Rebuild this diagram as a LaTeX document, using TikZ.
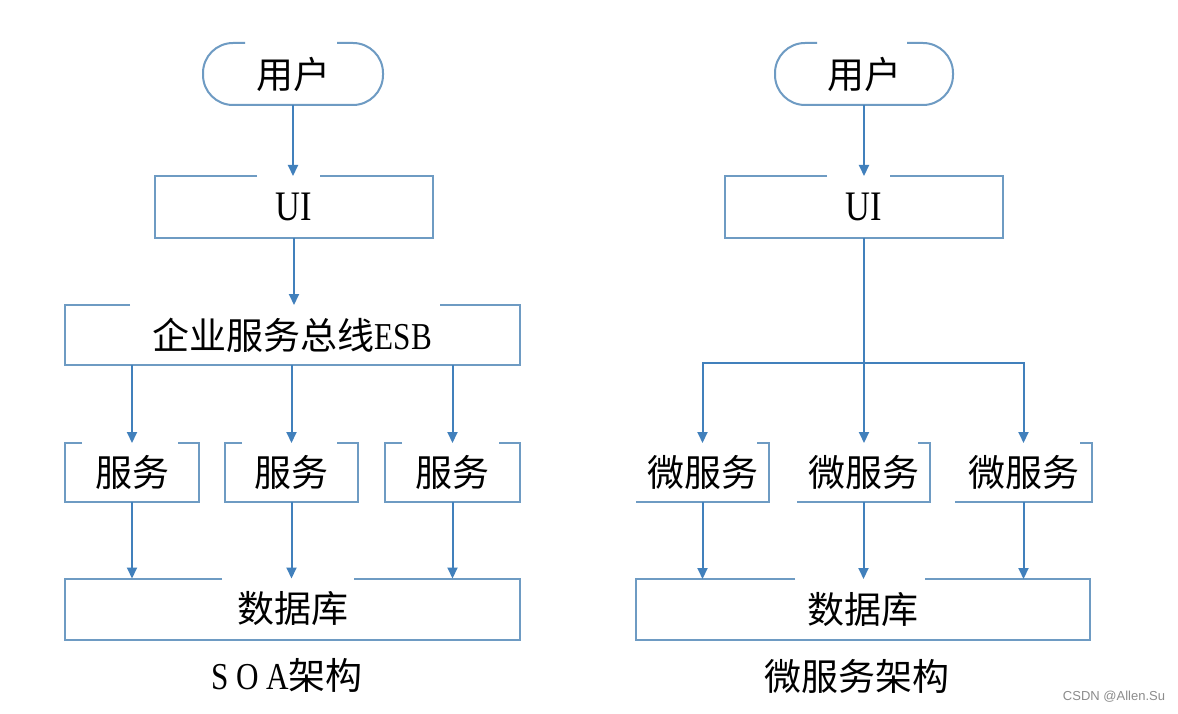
\documentclass[tikz,border=0pt]{standalone}
\usepackage{fontspec}
\setmainfont{Liberation Serif}[FakeStretch=0.82]
\newfontfamily\cjk{Noto Sans CJK SC}
\newfontfamily\wmfont{Liberation Sans}
\usetikzlibrary{arrows.meta,calc}
\definecolor{boxline}{RGB}{110,155,195}
\definecolor{arrowcol}{RGB}{65,128,188}
\newcommand\cn[1]{{\cjk\fontsize{37}{42}\selectfont #1}}
\newcommand\lt[2]{{\fontsize{#1}{#1}\selectfont #2}}
\begin{document}
\begin{tikzpicture}[x=1pt,y=-1pt,
  box/.style={inner sep=0pt, outer sep=0pt, draw=none},
  bl/.style={draw=boxline, line width=2pt},
  arr/.style={draw=arrowcol, line width=2pt, -{Triangle[length=11pt,width=10pt]}},
  ln/.style={draw=arrowcol, line width=2pt}]
\fill[white] (0,0) rectangle (1178,714);
\useasboundingbox (0,0) rectangle (1178,714);

% ---------------- SOA ----------------
\node[box, minimum width=180pt, minimum height=62pt] (u1) at (293,74) {\cn{用户}};
\draw[bl, rounded corners=30pt] ($(u1.north west)+(42,0)$) -- (u1.north west) -- (u1.south west) -- (u1.south east) -- (u1.north east) -- ($(u1.north east)+(-46,0)$);

\node[box, minimum width=278pt, minimum height=62pt] (ui1) at (294,207) {\lt{42}{UI}\hspace{8pt}};
\draw[bl] ($(ui1.north west)+(102,0)$) -- (ui1.north west) -- (ui1.south west) -- (ui1.south east) -- (ui1.north east) -- ($(ui1.north east)+(-113,0)$);

\node[box, minimum width=455pt, minimum height=60pt] (esb) at (292.5,335) {\cn{企业服务总线}\lt{38}{ESB}};
\draw[bl] ($(esb.north west)+(65,0)$) -- (esb.north west) -- (esb.south west) -- (esb.south east) -- (esb.north east) -- ($(esb.north east)+(-80,0)$);

\node[box, minimum width=134pt, minimum height=59pt] (s1) at (132,472.5) {\cn{服务}};
\node[box, minimum width=133pt, minimum height=59pt] (s2) at (291.5,472.5) {\cn{服务}};
\node[box, minimum width=135pt, minimum height=59pt] (s3) at (452.5,472.5) {\cn{服务}};
\foreach \s in {s1,s2,s3}{
  \draw[bl] ($(\s.north west)+(17,0)$) -- (\s.north west) -- (\s.south west) -- (\s.south east) -- (\s.north east) -- ($(\s.north east)+(-21,0)$);
}

\node[box, minimum width=455pt, minimum height=61pt] (db1) at (292.5,609) {\cn{数据库}};
\draw[bl] ($(db1.north west)+(157,0)$) -- (db1.north west) -- (db1.south west) -- (db1.south east) -- (db1.north east) -- ($(db1.north east)+(-166,0)$);

\draw[arr] (u1.south) -- (u1.south |- ui1.north);
\draw[arr] (ui1.south) -- (ui1.south |- esb.north);
\foreach \s in {s1,s2,s3}{
  \draw[arr] (\s |- esb.south) -- (\s.north);
  \draw[arr] (\s.south) -- (\s |- db1.north);
}

\node (cap1) at (287,675) {\lt{38}{S O A}\cn{架构}};

% ---------------- Microservices ----------------
\node[box, minimum width=178pt, minimum height=62pt] (u2) at (864,74) {\cn{用户}};
\draw[bl, rounded corners=30pt] ($(u2.north west)+(42,0)$) -- (u2.north west) -- (u2.south west) -- (u2.south east) -- (u2.north east) -- ($(u2.north east)+(-46,0)$);

\node[box, minimum width=278pt, minimum height=62pt] (ui2) at (864,207) {\lt{42}{UI}\hspace{8pt}};
\draw[bl] ($(ui2.north west)+(102,0)$) -- (ui2.north west) -- (ui2.south west) -- (ui2.south east) -- (ui2.north east) -- ($(ui2.north east)+(-113,0)$);

\node[box, minimum width=133pt, minimum height=59pt] (m1) at (702.5,472.5) {\cn{微服务}\hspace{22pt}};
\node[box, minimum width=133pt, minimum height=59pt] (m2) at (863.5,472.5) {\cn{微服务}\hspace{10pt}};
\node[box, minimum width=137pt, minimum height=59pt] (m3) at (1023.5,472.5) {\cn{微服务}\hspace{12pt}};
\foreach \s in {m1,m2,m3}{
  \draw[bl] ($(\s.north east)+(-12,0)$) -- (\s.north east) -- (\s.south east) -- (\s.south west);
}

\node[box, minimum width=454pt, minimum height=61pt] (db2) at (863,609.5) {\cn{数据库}};
\draw[bl] ($(db2.north west)+(159,0)$) -- (db2.north west) -- (db2.south west) -- (db2.south east) -- (db2.north east) -- ($(db2.north east)+(-165,0)$);

\coordinate (j) at (864,363);
\draw[arr] (u2.south) -- (u2.south |- ui2.north);
\draw[arr] (ui2.south) -- (ui2.south |- m2.north);
\draw[arr] (j) -| (m1.north);
\draw[arr] (j) -| (m3.north);
\foreach \s in {m1,m2,m3}{
  \draw[arr] (\s.south) -- (\s |- db2.north);
}

\node (cap2) at (857,676) {\cn{微服务架构}};

\node[text=black!45, font=\wmfont\fontsize{13}{13}\selectfont] (wm) at (1114,697) {CSDN @Allen.Su};
\end{tikzpicture}
\end{document}
